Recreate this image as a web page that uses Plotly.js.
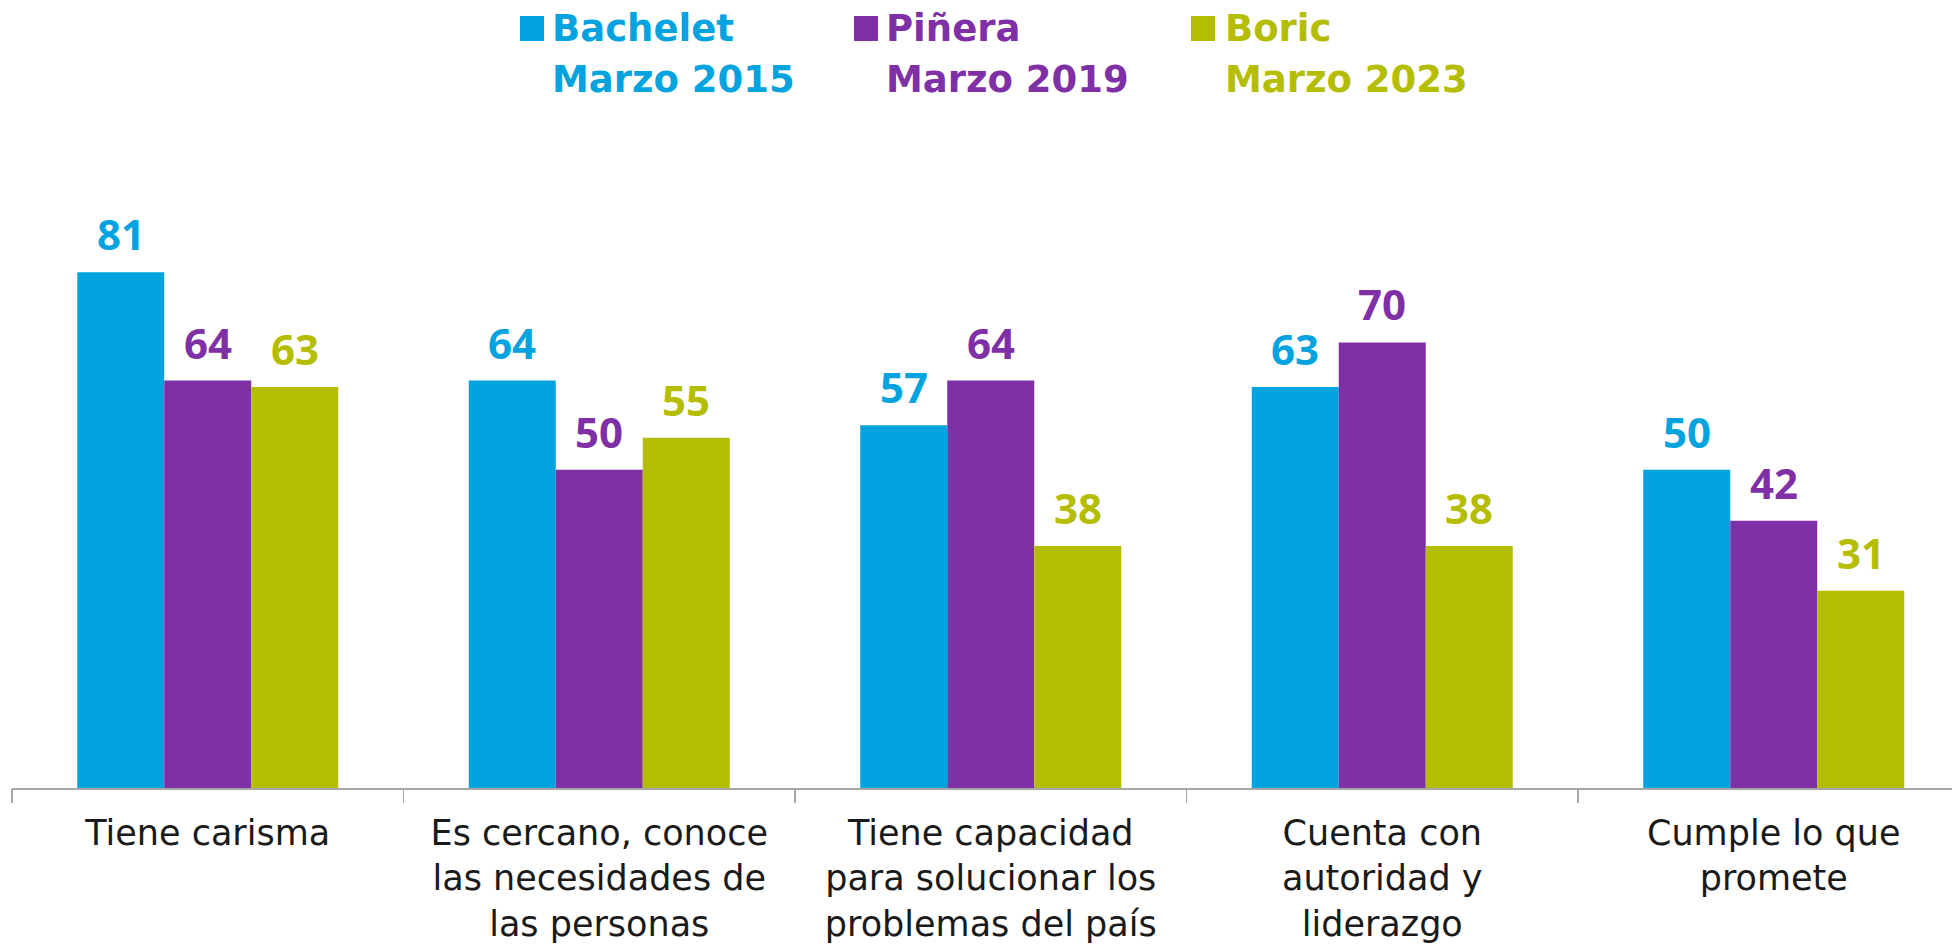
<!DOCTYPE html>
<html>
<head>
<meta charset="utf-8">
<script src="https://cdn.plot.ly/plotly-3.0.1.min.js"></script>
<style>html,body{margin:0;padding:0;background:#fff;}#chart{width:1952px;height:947px;}</style>
</head>
<body>
<div id="chart"></div>
<script>
// ---- data ----
const categories = [
  "Tiene carisma",
  "Es cercano, conoce<br>las necesidades de<br>las personas",
  "Tiene capacidad<br>para solucionar los<br>problemas del país",
  "Cuenta con<br>autoridad y<br>liderazgo",
  "Cumple lo que<br>promete"
];
const seriesNames = ["Bachelet", "Piñera", "Boric"];
const seriesPeriods = ["Marzo 2015", "Marzo 2019", "Marzo 2023"];
const bachelet = [81, 64, 57, 63, 50];
const pinera   = [64, 50, 64, 70, 42];
const boric    = [63, 55, 38, 38, 31];
const colors = ["#03A3E0", "#7F30A6", "#B5BD00"];

const seriesValues = [bachelet, pinera, boric];

// ---- geometry helpers (layout) ----
const W = 1952, H = 947;
const mL = 12, mR = 0, mT = 150, mB = 159;
const plotW = W - mL - mR, plotH = H - mT - mB;
const pxX = p => (p - mL) / plotW;
const pxY = p => (H - mB - p) / plotH;

const bargap = 1/3;
const barW = (1 - bargap) / 3;

const traces = seriesValues.map((vals, j) => ({
  type: "bar",
  x: categories.map((c, i) => i),
  y: vals,
  name: seriesNames[j] + " " + seriesPeriods[j],
  marker: {color: colors[j], line: {width: 0}},
  hoverinfo: "skip",
  showlegend: false
}));

const annotations = [];
seriesValues.forEach((vals, j) => {
  vals.forEach((v, i) => {
    annotations.push({
      xref: "x", yref: "y",
      x: i + (j - 1) * barW, y: v,
      text: String(v),
      showarrow: false,
      yanchor: "bottom", xanchor: "center",
      yshift: 8,
      font: {family: "Open Sans", size: 42, weight: 700, color: colors[j]}
    });
  });
});

// legend (top)
const legendSquareX = [520, 854, 1191];
const legendTextX = [551, 885, 1224];
const shapes = [];
seriesNames.forEach((n, j) => {
  shapes.push({
    type: "rect", xref: "paper", yref: "paper",
    x0: pxX(legendSquareX[j]), x1: pxX(legendSquareX[j] + 24),
    y0: pxY(41), y1: pxY(16),
    fillcolor: colors[j], line: {width: 0}
  });
  [n, seriesPeriods[j]].forEach((t, k) => {
    annotations.push({
      xref: "paper", yref: "paper",
      x: pxX(legendTextX[j]), y: pxY(k === 0 ? 29 : 80),
      xanchor: "left", yanchor: "middle", align: "left",
      borderpad: 0,
      text: t,
      showarrow: false,
      font: {family: "DejaVu Sans", size: 37, weight: 700, color: colors[j]}
    });
  });
});

const layout = {
  width: W, height: H,
  margin: {l: mL, r: mR, t: mT, b: mB, pad: 0},
  paper_bgcolor: "#fff", plot_bgcolor: "#fff",
  barmode: "group", bargap: bargap, bargroupgap: 0,
  showlegend: false,
  xaxis: {
    type: "linear",
    range: [-0.5, -0.5 + plotW / 391.5],
    tickmode: "array",
    tickvals: categories.map((c, i) => i),
    ticktext: categories,
    ticks: "",
    showline: true, linecolor: "#A6A6A6", linewidth: 1.5,
    showgrid: false, zeroline: false,
    tickfont: {family: "DejaVu Sans", size: 35, color: "#1a1a1a"},
    ticklabelstandoff: 13,
    fixedrange: true
  },
  xaxis2: {
    overlaying: "x", matches: "x", anchor: "y",
    tickmode: "array",
    tickvals: categories.map((c, i) => i - 0.5),
    ticktext: categories.map(() => ""),
    ticks: "outside", ticklen: 14, tickwidth: 1.5, tickcolor: "#A6A6A6",
    showline: false, showgrid: false, zeroline: false, showticklabels: false
  },
  yaxis: {range: [0, plotH / 6.366], visible: false, showgrid: false, zeroline: false, fixedrange: true},
  shapes: shapes,
  annotations: annotations
};

// invisible trace to activate xaxis2 (tick marks at category boundaries)
traces.push({type: "scatter", x: [0], y: [0], xaxis: "x2", yaxis: "y", mode: "markers",
  marker: {opacity: 0}, hoverinfo: "skip", showlegend: false});

Plotly.newPlot("chart", traces, layout, {displayModeBar: false, staticPlot: true});
</script>
</body>
</html>
